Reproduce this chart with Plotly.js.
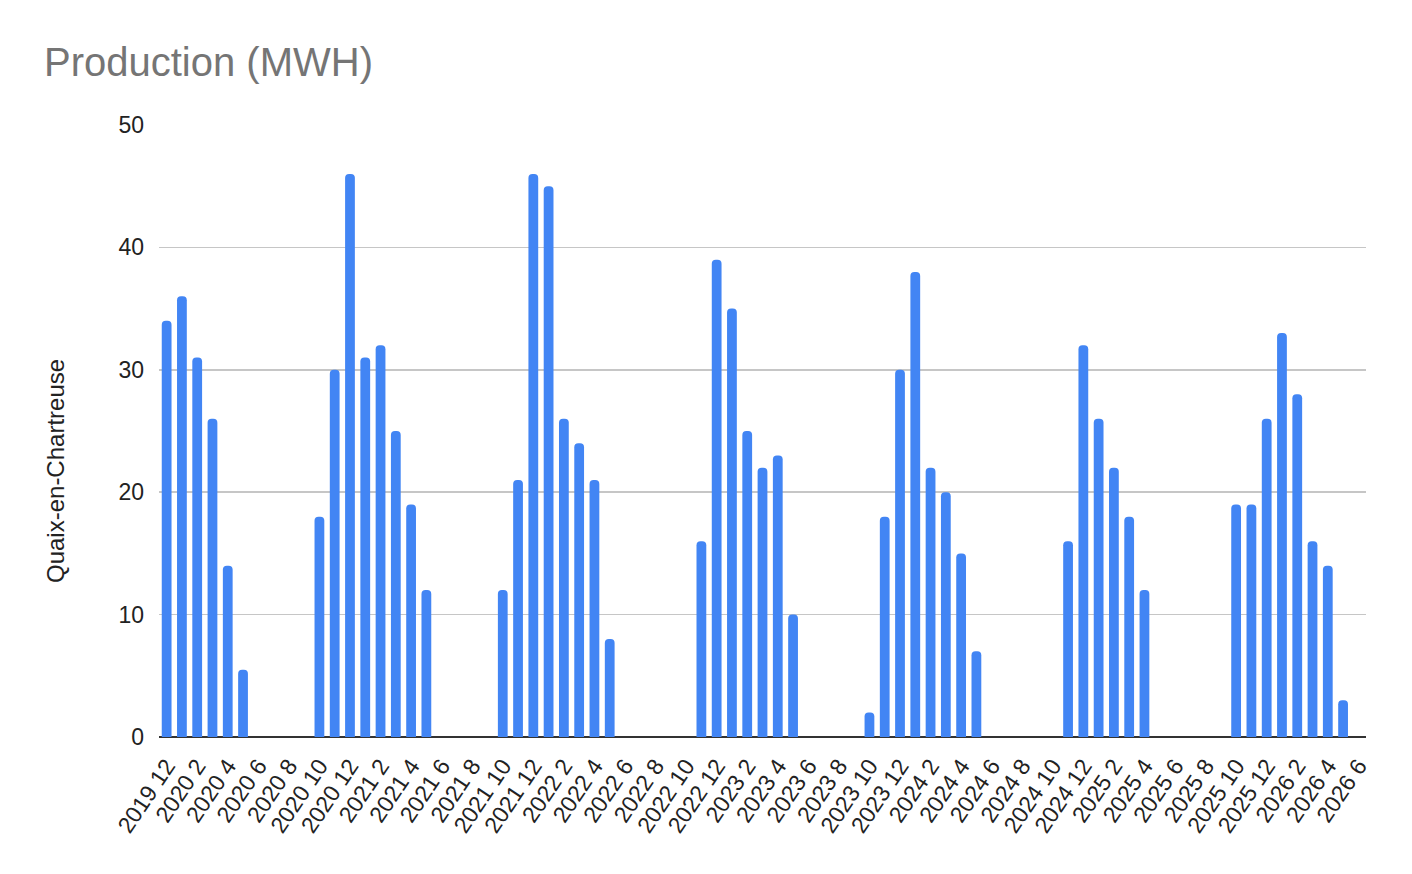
<!DOCTYPE html>
<html>
<head>
<meta charset="utf-8">
<script src="https://cdn.plot.ly/plotly-3.0.1.min.js"></script>
<style>
  html, body { margin: 0; padding: 0; background: #fff; }
  #chart { width: 1412px; height: 874px; }
</style>
</head>
<body>
<div id="chart"></div>
<script>
// monthly categories, Dec 2019 -> Jun 2026
const months = [
  '2019 12',
  '2020 1', '2020 2', '2020 3', '2020 4', '2020 5', '2020 6', '2020 7', '2020 8', '2020 9', '2020 10', '2020 11', '2020 12',
  '2021 1', '2021 2', '2021 3', '2021 4', '2021 5', '2021 6', '2021 7', '2021 8', '2021 9', '2021 10', '2021 11', '2021 12',
  '2022 1', '2022 2', '2022 3', '2022 4', '2022 5', '2022 6', '2022 7', '2022 8', '2022 9', '2022 10', '2022 11', '2022 12',
  '2023 1', '2023 2', '2023 3', '2023 4', '2023 5', '2023 6', '2023 7', '2023 8', '2023 9', '2023 10', '2023 11', '2023 12',
  '2024 1', '2024 2', '2024 3', '2024 4', '2024 5', '2024 6', '2024 7', '2024 8', '2024 9', '2024 10', '2024 11', '2024 12',
  '2025 1', '2025 2', '2025 3', '2025 4', '2025 5', '2025 6', '2025 7', '2025 8', '2025 9', '2025 10', '2025 11', '2025 12',
  '2026 1', '2026 2', '2026 3', '2026 4', '2026 5', '2026 6'
];

// production per month (MWh), null = no production shown
const production = [
  34,
  36, 31, 26, 14, 5.5, null, null, null, null, 18, 30, 46,
  31, 32, 25, 19, 12, null, null, null, null, 12, 21, 46,
  45, 26, 24, 21, 8, null, null, null, null, null, 16, 39,
  35, 25, 22, 23, 10, null, null, null, null, 2, 18, 30,
  38, 22, 20, 15, 7, null, null, null, null, null, 16, 32,
  26, 22, 18, 12, null, null, null, null, null, 19, 19, 26,
  33, 28, 16, 14, 3, null
];

// every second month gets a label
const tickMonths = months.filter((m, i) => i % 2 === 0);

const yTicks = [0, 10, 20, 30, 40, 50];

const FONT = 'Liberation Sans, Arial, sans-serif';

const data = [{
  type: 'bar',
  x: months,
  y: production,
  name: 'Quaix-en-Chartreuse',
  marker: { color: '#4285F4', cornerradius: 4 },
  hoverinfo: 'x+y'
}];

const layout = {
  width: 1412,
  height: 874,
  paper_bgcolor: '#fff',
  plot_bgcolor: '#fff',
  font: { family: FONT, color: '#222' },
  showlegend: false,
  bargap: 0.36,
  margin: { l: 159, r: 46, t: 125, b: 137, autoexpand: false },
  title: {
    text: 'Production (MWH)',
    font: { family: FONT, size: 40, color: '#757575' },
    xref: 'container', x: 44 / 1412, xanchor: 'left',
    yref: 'container', y: 1 - 62 / 874, yanchor: 'middle'
  },
  xaxis: {
    type: 'category',
    categoryorder: 'array',
    categoryarray: months,
    tickmode: 'array',
    tickvals: tickMonths,
    ticktext: tickMonths,
    tickangle: -56,
    tickfont: { family: FONT, size: 23, color: '#222' },
    ticklabelstandoff: 10,
    showgrid: false,
    showline: false,
    ticks: '',
    automargin: false
  },
  yaxis: {
    range: [0, 50],
    tickmode: 'array',
    tickvals: yTicks,
    tickfont: { family: FONT, size: 23, color: '#222' },
    gridcolor: '#c6c6c6',
    gridwidth: 1.5,
    zeroline: true,
    zerolinecolor: '#333333',
    zerolinewidth: 2,
    showline: false,
    ticks: '',
    ticklabelstandoff: 14,
    automargin: false
  },
  // series name as the vertical axis label, sitting a bit below the plot middle like the source
  annotations: [{
    text: 'Quaix-en-Chartreuse',
    textangle: -90,
    xref: 'paper', x: (55 - 159) / 1207, xanchor: 'center',
    yref: 'paper', y: (737 - 471) / 612, yanchor: 'middle',
    showarrow: false,
    font: { family: FONT, size: 24, color: '#222' }
  }]
};

Plotly.newPlot('chart', data, layout, { staticPlot: true, displayModeBar: false });
</script>
</body>
</html>
